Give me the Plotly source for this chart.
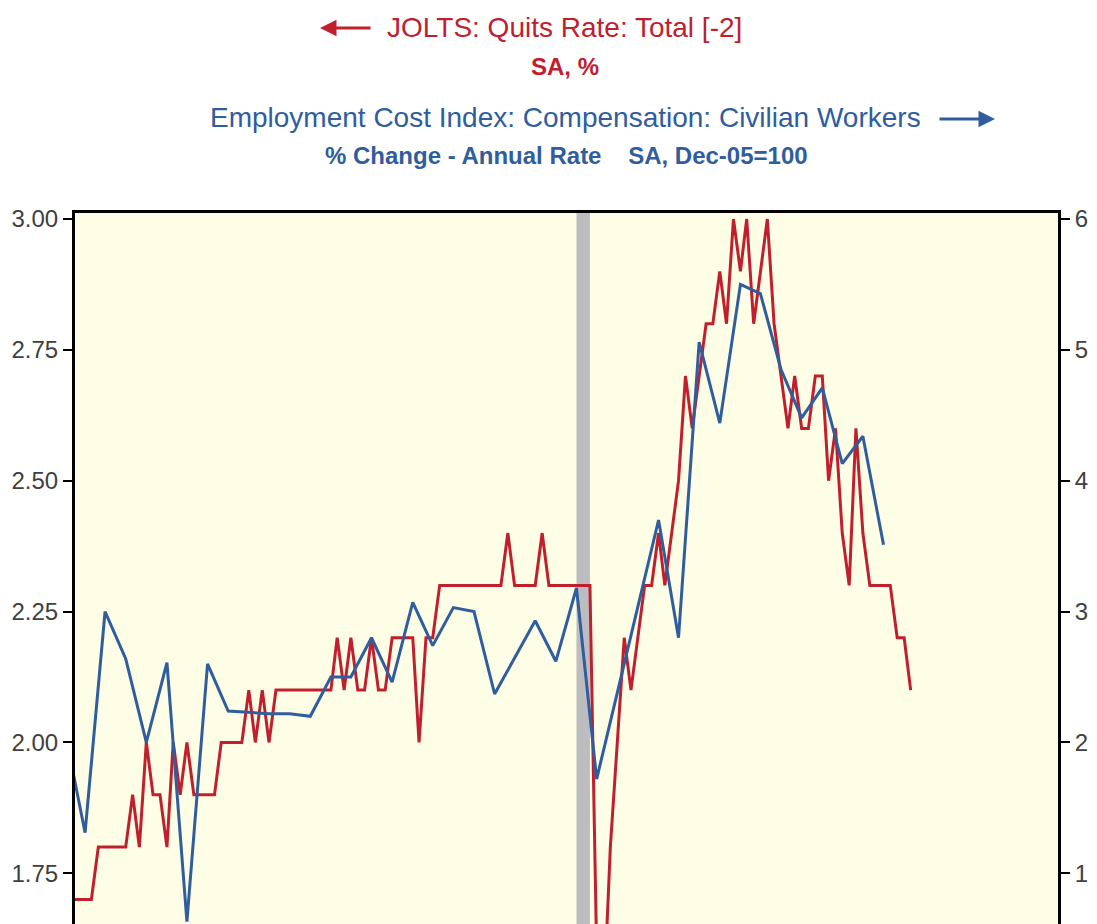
import pandas as pd
import plotly.graph_objects as go

# JOLTS quits rate (shifted +2 months), monthly, Dec-2013 .. Mar-2024 (%)
quits = [1.7, 1.7, 1.7, 1.7, 1.8, 1.8, 1.8, 1.8, 1.8, 1.9,
         1.8, 2.0, 1.9, 1.9, 1.8, 2.0, 1.9, 2.0, 1.9, 1.9,
         1.9, 1.9, 2.0, 2.0, 2.0, 2.0, 2.1, 2.0, 2.1, 2.0,
         2.1, 2.1, 2.1, 2.1, 2.1, 2.1, 2.1, 2.1, 2.1, 2.2,
         2.1, 2.2, 2.1, 2.1, 2.2, 2.1, 2.1, 2.2, 2.2, 2.2,
         2.2, 2.0, 2.2, 2.2, 2.3, 2.3, 2.3, 2.3, 2.3, 2.3,
         2.3, 2.3, 2.3, 2.3, 2.4, 2.3, 2.3, 2.3, 2.3, 2.4,
         2.3, 2.3, 2.3, 2.3, 2.3, 2.3, 2.3, 1.6, 1.5, 1.8,
         2.0, 2.2, 2.1, 2.2, 2.3, 2.3, 2.4, 2.3, 2.4, 2.5,
         2.7, 2.6, 2.7, 2.8, 2.8, 2.9, 2.8, 3.0, 2.9, 3.0,
         2.8, 2.9, 3.0, 2.8, 2.7, 2.6, 2.7, 2.6, 2.6, 2.7,
         2.7, 2.5, 2.6, 2.4, 2.3, 2.6, 2.4, 2.3, 2.3, 2.3,
         2.3, 2.2, 2.2, 2.1]
quits_start = "2013-12-01"

# ECI compensation civilian workers, % change annual rate, quarterly Q4-2013 .. Q4-2023
eci = [2.10, 1.31, 3.00, 2.64, 2.00, 2.61, 0.63, 2.60, 2.24, 2.23,
       2.22, 2.22, 2.20, 2.50, 2.50, 2.80, 2.46, 3.07, 2.74, 3.03,
       3.00, 2.37, 2.65, 2.93, 2.62, 3.18, 1.72, 2.37, 3.04, 3.70,
       2.80, 5.06, 4.44, 5.50, 5.43, 4.85, 4.48, 4.71, 4.13, 4.34,
       3.51]
eci_start = "2013-11-01"

recession = ("2020-02-15", "2020-04-15")

left_ticks = [1.75, 2.00, 2.25, 2.50, 2.75, 3.00]
right_ticks = [1, 2, 3, 4, 5, 6]

mid = pd.Timedelta(days=14)
quits_dates = pd.date_range(quits_start, periods=len(quits), freq="MS") + mid
eci_dates = pd.date_range(eci_start, periods=len(eci), freq="3MS") + mid

RED = "#c0202e"
BLUE = "#2f5d9e"
FONT = "Liberation Sans Narrow, Arial Narrow, Liberation Sans, Arial, sans-serif"

fig = go.Figure()
fig.add_trace(go.Scatter(x=eci_dates, y=eci, mode="lines", yaxis="y2",
                         line=dict(color=BLUE, width=3), showlegend=False))
fig.add_trace(go.Scatter(x=quits_dates, y=quits, mode="lines", yaxis="y",
                         line=dict(color=RED, width=3), showlegend=False))

fig.add_shape(type="rect", xref="x", yref="y domain", x0=recession[0], x1=recession[1],
              y0=0, y1=1, fillcolor="#bdbdc0", line_width=0, layer="below")

W, H = 1097, 924
L, R, T, B = 75, 1058, 213, 924

def px_x(p):
    return (p - L) / (R - L)

def px_y(p):
    return (B - p) / (B - T)

axis_common = dict(showline=True, linecolor="black", linewidth=3, ticks="outside",
                   ticklen=9, tickwidth=2, tickcolor="black", showgrid=False, zeroline=False,
                   tickfont=dict(family=FONT, size=24, color="#404040"))

fig.update_layout(
    width=W, height=H,
    margin=dict(l=L, r=W - R, t=T, b=0),
    paper_bgcolor="white",
    plot_bgcolor="#fefde6",
    xaxis=dict(type="date", range=["2014-01-01", "2026-01-01"], side="top",
               showline=True, linecolor="black", linewidth=3, ticks="",
               showticklabels=False, showgrid=False, zeroline=False),
    yaxis=dict(range=[1.6531, 3.0115], tickvals=left_ticks,
               ticktext=[f"{v:.2f}" for v in left_ticks], **axis_common),
    yaxis2=dict(range=[0.6124, 6.046], tickvals=right_ticks,
                ticktext=[str(v) for v in right_ticks], overlaying="y", side="right",
                **axis_common),
)

titles = [
    ("JOLTS: Quits Rate: Total [-2]", 564, 27, RED, False, 28),
    ("SA, %", 565, 66, RED, True, 24),
    ("Employment Cost Index: Compensation: Civilian Workers", 565, 117, BLUE, False, 28),
    ("% Change - Annual Rate&nbsp;&nbsp;&nbsp;&nbsp;SA, Dec-05=100", 566, 155, BLUE, True, 24),
]
for txt, x, y, col, bold, size in titles:
    fig.add_annotation(text=f"<b>{txt}</b>" if bold else txt, xref="paper", yref="paper",
                       x=px_x(x), y=px_y(y), xanchor="center", yanchor="middle",
                       showarrow=False, font=dict(family=FONT, size=size, color=col))

# direction arrows
fig.add_annotation(xref="paper", yref="paper", x=px_x(320), y=px_y(28), text="",
                   showarrow=True, ax=52, ay=0, arrowhead=2, arrowsize=1.1, arrowwidth=3,
                   arrowcolor=RED)
fig.add_annotation(xref="paper", yref="paper", x=px_x(995), y=px_y(119), text="",
                   showarrow=True, ax=-57, ay=0, arrowhead=2, arrowsize=1.1, arrowwidth=3,
                   arrowcolor=BLUE)

fig.write_html("out.html", config={"displayModeBar": False},
               post_script="document.body.style.margin='0';document.body.style.overflow='hidden';")
